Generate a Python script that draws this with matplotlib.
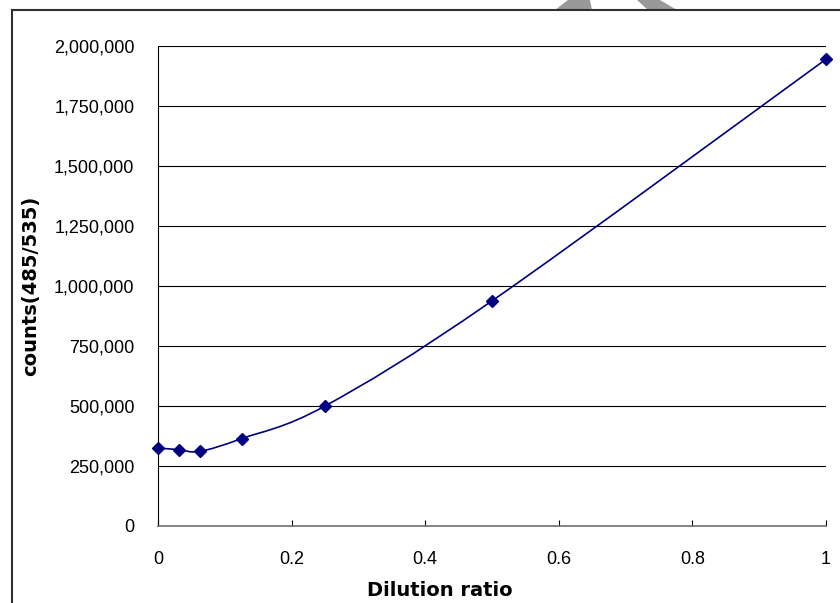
import numpy as np
import matplotlib
matplotlib.use("Agg")
import matplotlib.pyplot as plt
from matplotlib.path import Path
from matplotlib.patches import PathPatch, Polygon
from matplotlib.lines import Line2D
from matplotlib.ticker import FuncFormatter

# données
dilution = [0.0, 1 / 32, 1 / 16, 1 / 8, 1 / 4, 1 / 2, 1.0]
counts = [325000, 318000, 311000, 364000, 500000, 938000, 1945000]
y_ticks = [0, 250000, 500000, 750000, 1000000, 1250000, 1500000, 1750000, 2000000]
x_ticks = [0, 0.2, 0.4, 0.6, 0.8, 1.0]
x_labels = ["0", "0.2", "0.4", "0.6", "0.8", "1"]

W, H = 840, 603
navy = "#000080"


def courbe_lissee(xs, ys):
    """Courbe de Bezier passant par les points (lissage type tableur)."""
    pts = np.column_stack([xs, ys]).astype(float)
    n = len(pts)
    verts = [pts[0]]
    codes = [Path.MOVETO]
    for i in range(n - 1):
        p0 = pts[i - 1] if i > 0 else pts[i]
        p1 = pts[i]
        p2 = pts[i + 1]
        p3 = pts[i + 2] if i + 2 < n else pts[i + 1]
        c1 = p1 + (p2 - p0) / 6
        c2 = p2 - (p3 - p1) / 6
        verts += [c1, c2, p2]
        codes += [Path.CURVE4] * 3
    return Path(verts, codes)


fig = plt.figure(figsize=(W / 100, H / 100), dpi=100)
ax = fig.add_axes([158 / W, (H - 526) / H, (826 - 158) / W, (526 - 46) / H])

ax.set_xlim(0, 1)
ax.set_ylim(0, 2000000)

# grille horizontale
for v in y_ticks[1:]:
    ax.axhline(v, color="black", linewidth=0.8, zorder=1)

# courbe lissée + marqueurs
ax.add_patch(PathPatch(courbe_lissee(dilution, counts), facecolor="none",
                       edgecolor=navy, linewidth=1.2, zorder=3))
ax.plot(dilution, counts, linestyle="none", marker="D", markersize=6,
        color=navy, clip_on=False, zorder=4)

ax.spines["top"].set_visible(False)
ax.spines["right"].set_visible(False)
ax.spines["left"].set_color("black")
ax.spines["bottom"].set_color("#707070")
ax.spines["bottom"].set_linewidth(1.2)

ax.set_yticks(y_ticks)
ax.yaxis.set_major_formatter(FuncFormatter(lambda v, p: f"{int(v):,}"))
ax.set_xticks(x_ticks)
ax.set_xticklabels(x_labels)

ax.tick_params(axis="y", direction="in", length=0, pad=17,
               labelsize=13, labelfontfamily="Liberation Sans")
ax.tick_params(axis="x", direction="in", length=4, width=0.8, pad=18,
               labelsize=13, labelfontfamily="Liberation Sans")

ax.set_ylabel("counts(485/535)", fontsize=14, fontweight="bold",
              family="DejaVu Sans")
ax.yaxis.set_label_coords(-(158 - 40) / (826 - 158), 0.5)
fig.text(440 / W, 1 - 590 / H, "Dilution ratio", fontsize=14,
         fontweight="bold", family="DejaVu Sans", ha="center", va="center")

# cadre extérieur du graphique
fig.add_artist(Line2D([12 / W, 1], [1 - 10 / H, 1 - 10 / H],
                      color="#303030", linewidth=1.5))
fig.add_artist(Line2D([12 / W, 12 / W], [0, 1 - 10 / H],
                      color="#303030", linewidth=1.5))

# forme grise en haut
for forme in ([(555, 10), (568, 0), (590, 0), (592, 10)],
              [(637, 0), (660, 0), (677, 10), (648, 10)]):
    pts = [(x / W, 1 - y / H) for x, y in forme]
    fig.add_artist(Polygon(pts, closed=True, facecolor="#999999",
                           edgecolor="none", transform=fig.transFigure))

fig.savefig("out.png", dpi=100)
